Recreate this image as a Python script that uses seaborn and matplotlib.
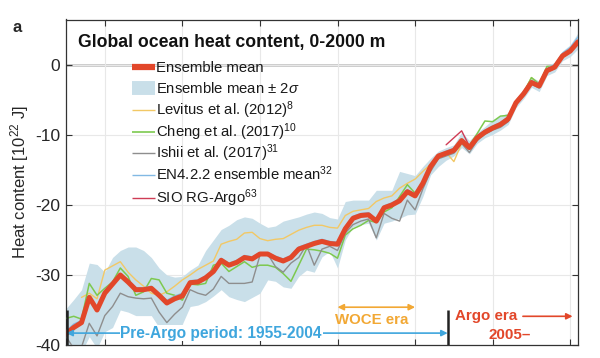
import numpy as np
import pandas as pd
import matplotlib
matplotlib.use("Agg")
import matplotlib.pyplot as plt
import seaborn as sns
from matplotlib.lines import Line2D

sns.set_theme(style="white")
plt.rcParams['font.family'] = ['Liberation Sans', 'DejaVu Sans']
plt.rcParams['mathtext.fontset'] = 'custom'
plt.rcParams['mathtext.rm'] = 'Liberation Sans'
plt.rcParams['mathtext.it'] = 'Liberation Sans:italic'
plt.rcParams['axes.unicode_minus'] = False

# ---------------- data (10^22 J) ----------------
years = list(range(1955, 2022))

ensemble_mean = [-38.4, -37.5, -36.8, -33.2, -35.0, -32.6, -31.3, -30.0, -31.0, -32.1,
                 -32.1, -31.9, -32.9, -34.0, -33.4, -33.0, -31.1, -31.0, -30.4, -29.5,
                 -27.9, -28.6, -28.2, -27.5, -27.7, -27.0, -27.0, -27.6, -28.0, -27.5,
                 -26.3, -25.9, -25.5, -25.2, -25.5, -25.6, -23.4, -21.9, -21.5, -21.4,
                 -22.3, -20.4, -20.0, -19.4, -18.1, -18.7, -16.9, -14.5, -13.0, -12.6,
                 -12.2, -10.8, -11.8, -10.4, -9.6, -9.0, -8.5, -7.7, -5.4, -4.1,
                 -2.5, -3.0, -0.8, -0.3, 1.3, 2.0, 3.3]

band_upper = [-34.8, -33.5, -32.1, -28.3, -28.5, -29.6, -27.5, -26.5, -26.0, -26.0,
              -26.5, -27.5, -29.0, -30.0, -30.3, -30.2, -29.3, -28.6, -26.5, -25.0,
              -23.5, -22.9, -22.1, -21.7, -21.9, -22.6, -23.2, -23.0, -22.3, -22.0,
              -21.7, -21.3, -21.0, -21.2, -21.8, -22.0, -19.5, -19.3, -19.3, -19.3,
              -17.9, -17.9, -17.9, -15.2, -15.5, -15.8, -14.5, -13.3, -12.3, -11.8,
              -11.4, -9.6, -10.8, -9.6, -8.8, -7.8, -7.3, -6.8, -4.8, -3.4,
              -1.7, -2.3, -0.1, 0.4, 2.0, 2.9, 4.6]

band_lower = [-41.5, -42.0, -41.0, -38.8, -40.5, -38.1, -37.5, -35.0, -35.3, -35.8,
              -35.8, -35.8, -37.5, -38.3, -38.0, -37.0, -34.5, -34.3, -33.8, -33.0,
              -32.1, -33.1, -33.5, -33.8, -33.2, -32.6, -30.7, -30.9, -31.7, -31.9,
              -30.2, -29.3, -29.6, -27.4, -26.6, -29.0, -25.0, -23.1, -22.8, -22.6,
              -25.0, -22.6, -22.3, -21.9, -21.4, -21.3, -18.8, -15.7, -14.5, -13.6,
              -13.0, -11.8, -12.7, -11.2, -10.4, -9.9, -9.3, -8.5, -6.1, -4.8,
              -3.2, -3.8, -1.5, -1.0, 0.6, 1.2, 2.3]

levitus_years = list(range(1957, 2021))
levitus = [-33.2, -32.6, -33.4, -29.3, -28.7, -28.1, -29.6, -30.7, -31.6, -32.6,
           -32.9, -32.4, -31.6, -30.7, -30.0, -29.2, -28.6, -28.0, -25.6, -25.2,
           -24.9, -24.0, -23.9, -24.8, -25.1, -24.9, -24.8, -24.2, -23.6, -23.2,
           -22.9, -22.9, -23.2, -23.3, -21.5, -20.9, -20.7, -20.5, -19.5, -19.0,
           -18.7, -17.6, -16.9, -16.3, -15.2, -14.2, -12.9, -12.5, -13.8, -11.2,
           -11.6, -10.6, -9.8, -9.2, -8.6, -7.9, -5.6, -4.0, -1.8, -2.8,
           -0.6, -0.4, 1.2, 1.9]

cheng = [-36.2, -35.9, -36.3, -31.2, -32.9, -31.9, -31.0, -29.0, -30.2, -32.9,
         -32.4, -30.5, -30.7, -32.6, -32.9, -33.6, -31.3, -31.4, -31.2, -28.6,
         -28.3, -29.5, -28.8, -28.1, -28.9, -28.6, -28.6, -28.9, -29.8, -30.9,
         -28.6, -26.3, -26.4, -26.6, -26.9, -27.6, -24.3, -23.4, -22.9, -22.2,
         -22.5, -21.0, -20.4, -18.8, -17.1, -18.3, -16.7, -14.5, -13.0, -12.4,
         -12.0, -10.6, -11.5, -9.8, -8.0, -8.1, -7.3, -7.2, -5.2, -3.9,
         -1.8, -2.7, -0.2, -0.2, 1.4, 2.1, 3.3]

ishii = [-38.8, -40.5, -40.3, -36.9, -38.7, -35.8, -34.5, -32.6, -33.1, -33.3,
         -33.4, -33.3, -35.3, -36.8, -35.6, -34.6, -32.1, -32.6, -32.9, -32.0,
         -30.2, -31.2, -31.2, -31.2, -31.0, -27.2, -27.0, -28.8, -29.6, -28.3,
         -27.5, -25.7, -28.6, -26.3, -25.9, -26.5, -24.0, -22.8, -22.3, -22.0,
         -24.7, -21.2, -21.9, -22.3, -19.3, -20.7, -17.7, -15.2, -13.4, -13.0,
         -12.6, -11.2, -12.5, -10.8, -9.9, -9.3, -8.9, -8.1, -5.6, -4.4,
         -2.7, -3.3, -1.0, -0.5, 1.1, 1.8, 3.1]

en4 = [-38.0, -37.0, -36.5, -33.0, -34.6, -32.2, -31.0, -29.8, -30.7, -31.8,
       -31.8, -31.6, -32.6, -33.6, -33.0, -32.6, -30.8, -30.7, -30.1, -29.2,
       -27.6, -28.3, -27.9, -27.2, -27.4, -26.8, -26.8, -27.3, -27.7, -27.2,
       -26.0, -25.6, -25.2, -24.9, -25.2, -25.3, -23.1, -21.6, -21.2, -21.1,
       -22.0, -20.1, -19.7, -19.1, -17.8, -18.4, -16.6, -14.2, -12.8, -12.3,
       -11.9, -10.6, -11.5, -10.1, -9.3, -8.7, -8.2, -7.4, -5.1, -3.8,
       -2.2, -2.7, -0.5, 0.1, 1.7, 2.5, 4.0]

sio_years = list(range(2004, 2022))
sio = [-11.4, -10.4, -9.4, -11.6, -10.4, -9.6, -9.1, -8.7, -8.0, -5.5,
       -4.2, -2.5, -3.0, -0.8, -0.3, 1.3, 2.0, 3.2]

yticks = [-40, -30, -20, -10, 0]
xticks = [1960, 1970, 1980, 1990, 2000, 2010, 2020]

legend_labels = ['Ensemble mean', 'Ensemble mean $\\pm$ 2$\\mathit{\\sigma}$',
                 'Levitus et al. (2012)$^{8}$', 'Cheng et al. (2017)$^{10}$',
                 'Ishii et al. (2017)$^{31}$', 'EN4.2.2 ensemble mean$^{32}$',
                 'SIO RG-Argo$^{63}$']

# ---------------- colours ----------------
C_RED = '#E2472A'
C_BAND = '#C9DFE9'
C_LEV = '#F2C865'
C_CHENG = '#7DC94F'
C_ISHII = '#8E8E8E'
C_EN4 = '#82B9E4'
C_SIO = '#CF3C55'
C_PRE = '#3FA6DD'
C_WOCE = '#F2A834'

W, H = 600, 358
fig = plt.figure(figsize=(6.0, 3.58), dpi=100)
AX_L, AX_B, AX_W, AX_H = 66, 13, 512, 325.5
ax = fig.add_axes([AX_L/W, AX_B/H, AX_W/W, AX_H/H])

ax.fill_between(years, band_lower, band_upper, color=C_BAND, lw=0, zorder=1)
sns.lineplot(x=levitus_years, y=levitus, ax=ax, color=C_LEV, lw=1.0, zorder=3)
sns.lineplot(x=years, y=cheng, ax=ax, color=C_CHENG, lw=1.1, zorder=3)
sns.lineplot(x=years, y=ishii, ax=ax, color=C_ISHII, lw=1.0, zorder=3)
sns.lineplot(x=years, y=en4, ax=ax, color=C_EN4, lw=0.9, zorder=3)
sns.lineplot(x=sio_years, y=sio, ax=ax, color=C_SIO, lw=1.0, zorder=3)
sns.lineplot(x=years, y=ensemble_mean, ax=ax, color=C_RED, lw=3.6, zorder=5)

ax.set_xlim(1955, 2021)
ax.set_ylim(-40, 6.5)
ax.set_xticks(xticks)
ax.set_xticklabels([])
ax.set_yticks(yticks)
ax.set_yticklabels([str(v) for v in yticks], fontsize=12.5)
ax.tick_params(axis='both', direction='in', length=4, width=0.8, color='#333333',
               top=True, right=True, bottom=True, left=True, pad=4)
ax.grid(True, color='#E8E8E8', lw=0.8, zorder=0)
ax.set_axisbelow(True)
ax.axhline(0, color='#BDBDBD', lw=1.8, zorder=0.5)
for s in ax.spines.values():
    s.set_color('#333333')
    s.set_linewidth(0.9)
ax.set_xlabel('')
ax.set_ylabel('Heat content [10$^{22}$ J]', fontsize=12, labelpad=3)

# ---------------- legend (drawn row by row, in axes fractions) ----------------
def ax_x(px):
    return (px - AX_L) / AX_W

def ax_y(py):
    return (H - AX_B - py) / AX_H

row_px = [67, 88, 110, 132, 153, 175, 198]
handle_styles = [(C_RED, 4.5), (C_BAND, 10), (C_LEV, 1.0), (C_CHENG, 1.2),
                 (C_ISHII, 1.0), (C_EN4, 1.0), (C_SIO, 1.0)]
for rp, (col, lw), lab in zip(row_px, handle_styles, legend_labels):
    ax.add_line(Line2D([ax_x(132), ax_x(155)], [ax_y(rp), ax_y(rp)],
                       transform=ax.transAxes, color=col, lw=lw,
                       solid_capstyle='butt', zorder=10))
    ax.text(ax_x(156.5), ax_y(rp + 5.3), lab, transform=ax.transAxes,
            fontsize=10.7, ha='left', va='baseline', color='#1a1a1a', zorder=10)

ax.text(0.023, 0.928, 'Global ocean heat content, 0-2000 m', transform=ax.transAxes,
        fontsize=12.7, fontweight='bold', ha='left', va='center', color='#111111')
fig.text(0.028, 0.922, 'a', fontsize=12, fontweight='bold', ha='center', va='center')

# ---------------- era annotations ----------------
ax.annotate('', xy=(1955.05, -38.3), xytext=(2004.2, -38.3),
            arrowprops=dict(arrowstyle='<|-|>', color=C_PRE, lw=1.2,
                            mutation_scale=9, shrinkA=0, shrinkB=0), zorder=6)
ax.text(1975.0, -38.3, 'Pre-Argo period: 1955-2004', color=C_PRE, fontsize=11.2,
        fontweight='bold', ha='center', va='center', zorder=7,
        bbox=dict(facecolor='white', edgecolor='none', pad=0.5))
ax.annotate('', xy=(1990.0, -34.6), xytext=(2000.0, -34.6),
            arrowprops=dict(arrowstyle='<|-|>', color=C_WOCE, lw=1.2,
                            mutation_scale=9, shrinkA=0, shrinkB=0), zorder=6)
ax.text(1994.4, -36.5, 'WOCE era', color=C_WOCE, fontsize=10.8, fontweight='bold',
        ha='center', va='center', zorder=7)
ax.plot([2004.3, 2004.3], [-35.0, -40.0], color='#222222', lw=1.8, zorder=7,
        solid_capstyle='butt')
ax.plot([1955.1, 1955.1], [-35.0, -40.0], color='#222222', lw=1.8, zorder=7,
        solid_capstyle='butt')
ax.text(2009.1, -35.9, 'Argo era', color=C_RED, fontsize=10.9, fontweight='bold',
        ha='center', va='center', zorder=7)
ax.annotate('', xy=(2020.3, -35.9), xytext=(2013.9, -35.9),
            arrowprops=dict(arrowstyle='-|>', color=C_RED, lw=1.2,
                            mutation_scale=9, shrinkA=0, shrinkB=0), zorder=6)
ax.text(2012.2, -38.6, '2005\u2013', color=C_RED, fontsize=10.9, fontweight='bold',
        ha='center', va='center', zorder=7)

fig.savefig('out.png', dpi=100)
